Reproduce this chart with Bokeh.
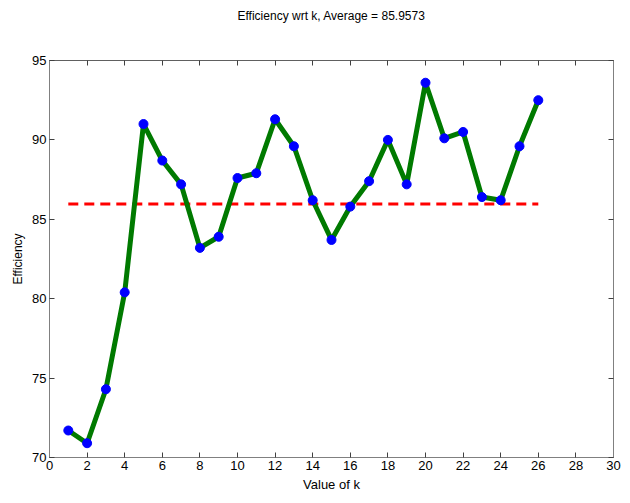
from bokeh.plotting import figure
from bokeh.models import LinearAxis, Range1d, FixedTicker, CustomJSTickFormatter
from bokeh.embed import file_html
from bokeh.resources import INLINE

k_values = list(range(1, 27))
efficiency = [71.7, 70.9, 74.3, 80.4, 91.0, 88.7, 87.2, 83.2, 83.9, 87.6,
              87.9, 91.3, 89.6, 86.2, 83.7, 85.8, 87.4, 90.0, 87.2, 93.6,
              90.1, 90.5, 86.4, 86.2, 89.6, 92.5]
average = 85.9573
x_ticks = list(range(0, 31, 2))
y_ticks = [70, 75, 80, 85, 90, 95]

NARROW = "Liberation Sans Narrow, Arial Narrow, Liberation Sans, sans-serif"

p = figure(width=622, height=500, output_backend="svg", toolbar_location=None,
           x_range=Range1d(0, 30), y_range=Range1d(70, 95),
           title="Efficiency wrt k, Average = %.4f" % average)
p.min_border_left = 49
p.min_border_right = 9
p.min_border_top = 60
p.min_border_bottom = 43

p.title.align = "center"
p.title.text_font = NARROW
p.title.text_font_size = "12px"
p.title.text_font_style = "normal"
p.title.text_color = "#000000"
p.title.standoff = 2

p.xgrid.visible = False
p.ygrid.visible = False
p.outline_line_color = "#808080"
p.background_fill_color = "white"
p.border_fill_color = "white"

for ax, ticks in ((p.xaxis[0], x_ticks), (p.yaxis[0], y_ticks)):
    ax.ticker = FixedTicker(ticks=ticks)
    ax.major_tick_in = 5
    ax.major_tick_out = 0
    ax.minor_tick_line_color = None
    ax.axis_line_color = "#808080"
    ax.major_tick_line_color = "#404040"
    ax.major_label_text_font = NARROW
    ax.major_label_text_font_size = "13px"
    ax.major_label_text_color = "#000000"
    ax.major_label_standoff = 3
    ax.axis_label_text_font_style = "normal"
    ax.axis_label_text_color = "#000000"
    ax.axis_label_standoff = 4

p.xaxis.axis_label = "Value of k"
p.xaxis.axis_label_text_font = NARROW
p.xaxis.axis_label_text_font_size = "13px"
p.yaxis.axis_label = "Efficiency"
p.yaxis.axis_label_text_font = "Liberation Sans, Arial, sans-serif"
p.yaxis.axis_label_text_font_size = "12px"
p.yaxis.axis_label_standoff = 4

empty = CustomJSTickFormatter(code="return ''")
blank = CustomJSTickFormatter(code="return ' '")
right_ax = LinearAxis(ticker=FixedTicker(ticks=y_ticks), formatter=empty,
                      major_tick_in=5, major_tick_out=0,
                      minor_tick_line_color=None, axis_line_color="#808080",
                      major_tick_line_color="#404040", major_label_standoff=0)
top_ax = LinearAxis(ticker=FixedTicker(ticks=x_ticks), formatter=blank,
                    major_tick_in=5, major_tick_out=0,
                    major_label_text_font_size="13px",
                    minor_tick_line_color=None, axis_line_color="#606060",
                    major_tick_line_color="#404040", major_label_standoff=19)
p.add_layout(right_ax, "right")
p.add_layout(top_ax, "above")

p.line([k_values[0], k_values[-1]], [average, average], line_color="#ff0000",
       line_width=3, line_dash="10 6")
p.line(k_values, efficiency, line_color="#007a00", line_width=5)
p.scatter(k_values, efficiency, size=9, marker="circle",
          fill_color="#0000ff", line_color="#0000ff")

open("out.html", "w").write(file_html(p, INLINE))
